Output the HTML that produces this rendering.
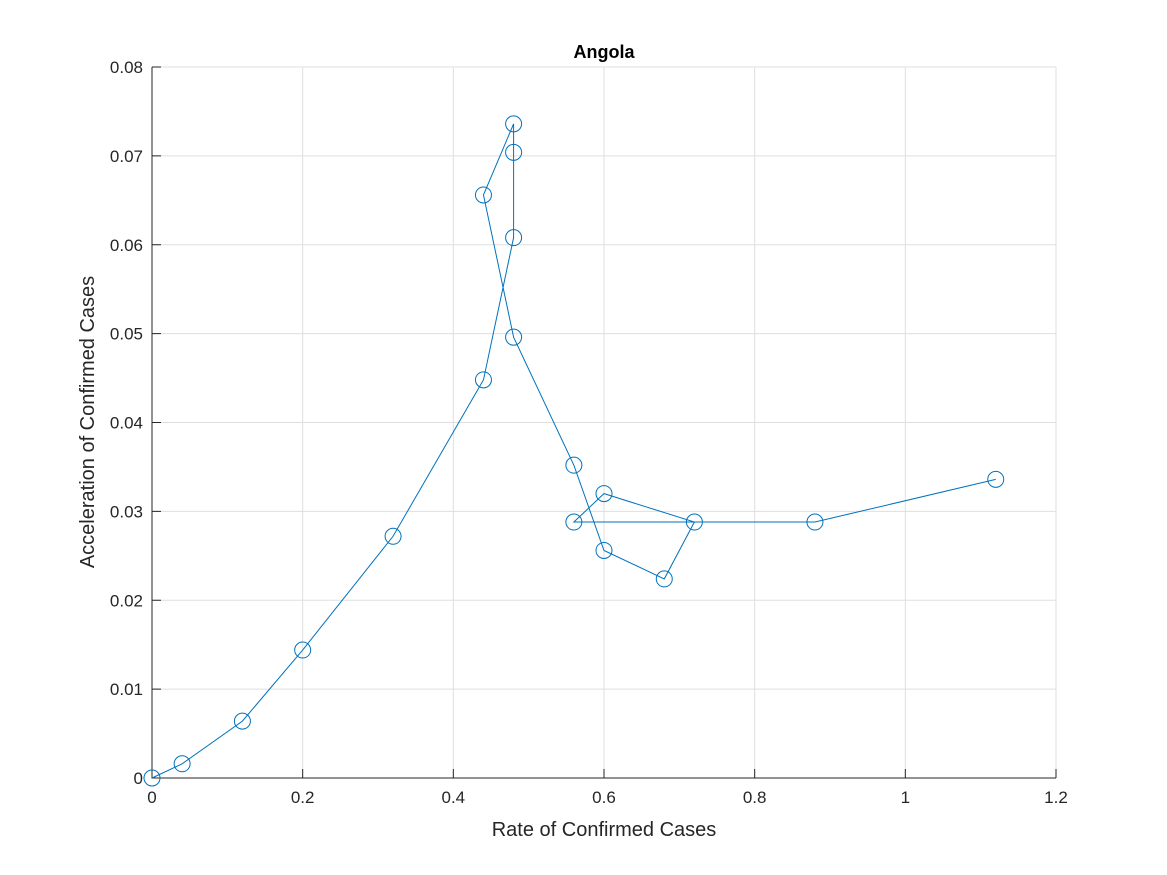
<!DOCTYPE html>
<html><head><meta charset="utf-8"><style>
html,body{margin:0;padding:0;background:#fff;}
svg{display:block;font-family:"Liberation Sans",sans-serif;}
</style></head><body>
<svg id="chart" width="1167" height="875" viewBox="0 0 1167 875">
<rect width="1167" height="875" fill="#fff"/>
<g id="grid"></g>
<g id="axes"></g>
<g id="series"></g>
<text x="604" y="58" text-anchor="middle" font-size="18" font-weight="bold" fill="#000">Angola</text>
<text x="604" y="836" text-anchor="middle" font-size="20" fill="#262626">Rate of Confirmed Cases</text>
<text transform="translate(94,422) rotate(-90)" text-anchor="middle" font-size="20" fill="#262626">Acceleration of Confirmed Cases</text>
</svg>
<script>
const xValues=[0,0.04,0.12,0.2,0.32,0.44,0.48,0.48,0.48,0.44,0.48,0.56,0.60,0.68,0.72,0.60,0.56,0.88,1.12];
const yValues=[0,0.0016,0.0064,0.0144,0.0272,0.0448,0.0608,0.0704,0.0736,0.0656,0.0496,0.0352,0.0256,0.0224,0.0288,0.032,0.0288,0.0288,0.0336];
const xTicks=[0,0.2,0.4,0.6,0.8,1,1.2];
const xTickLabels=["0","0.2","0.4","0.6","0.8","1","1.2"];
const yTicks=[0,0.01,0.02,0.03,0.04,0.05,0.06,0.07,0.08];
const yTickLabels=["0","0.01","0.02","0.03","0.04","0.05","0.06","0.07","0.08"];
const L=152,R=1056,T=67,B=778;
const sx=v=>L+(v-0)/(1.2-0)*(R-L);
const sy=v=>B-(v-0)/(0.08-0)*(B-T);
const NS="http://www.w3.org/2000/svg";
function mk(tag,attrs,parent){const e=document.createElementNS(NS,tag);for(const k in attrs)e.setAttribute(k,attrs[k]);parent.appendChild(e);return e;}
const grid=document.getElementById('grid'),axes=document.getElementById('axes'),series=document.getElementById('series');
xTicks.forEach((t,i)=>{const x=sx(t);
 const g=mk('line',{x1:x,x2:x,y1:T,y2:B,stroke:'#dfdfdf','stroke-width':1},grid);
 
 
 const tk=mk('line',{x1:x,x2:x,y1:B,y2:B-9,stroke:'#262626'},axes);
 
 
 const tx=mk('text',{x:x,y:B+25,'text-anchor':'middle','font-size':17,fill:'#262626'},axes);
 tx.textContent=xTickLabels[i];
 
 
});
yTicks.forEach((t,i)=>{const y=sy(t);
 const g=mk('line',{x1:L,x2:R,y1:y,y2:y,stroke:'#dfdfdf','stroke-width':1},grid);
 
 
 const tk=mk('line',{x1:L,x2:L+9,y1:y,y2:y,stroke:'#262626'},axes);
 
 
 const tx=mk('text',{x:L-9,y:y+6,'text-anchor':'end','font-size':17,fill:'#262626'},axes);
 tx.textContent=yTickLabels[i];
 
 
});
const ax=mk('path',{d:'M'+L+' '+T+' V'+B+' H'+R,fill:'none',stroke:'#262626','stroke-width':1},axes);


const pts=xValues.map((v,i)=>sx(v)+','+sy(yValues[i])).join(' ');
const pl=mk('polyline',{points:pts,fill:'none',stroke:'#0072BD','stroke-width':1},series);


xValues.forEach((v,i)=>{
 const c=mk('circle',{cx:sx(v),cy:sy(yValues[i]),r:8,fill:'none',stroke:'#0072BD','stroke-width':1},series);
 
 
});
</script>
</body></html>
